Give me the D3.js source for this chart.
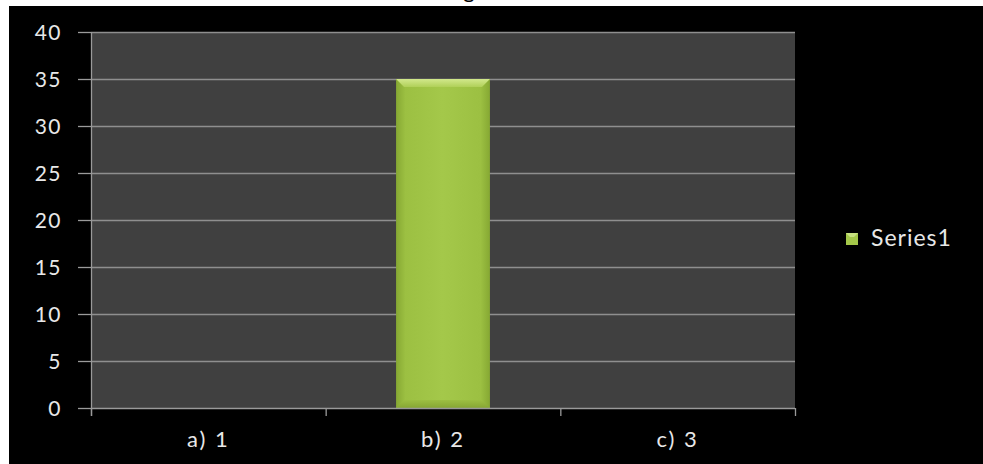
<!DOCTYPE html>
<html>
<head>
<meta charset="utf-8">
<script src="https://cdn.jsdelivr.net/npm/d3@7/dist/d3.min.js"></script>
<style>
  html, body { margin: 0; padding: 0; background: #ffffff; }
  svg { display: block; }
</style>
</head>
<body>
<svg id="chart" width="983" height="464"></svg>
<script>
// Chart data
const categories = ["a) 1", "b) 2", "c) 3"];
const series1 = [0, 35, 0];
const seriesName = "Series1";
const yTicks = [0, 5, 10, 15, 20, 25, 30, 35, 40];
const titleText = "g";

const W = 983, H = 464;
const plot = { left: 91, right: 795, top: 32, bottom: 408 };
const font = "Lato, 'Open Sans', sans-serif";
const labelColor = "#e8e8e8";

const svg = d3.select("#chart");

// White page with a black chart frame
svg.append("rect").attr("width", W).attr("height", H).attr("fill", "#ffffff");
svg.append("rect").attr("x", 9).attr("y", 6).attr("width", W - 9).attr("height", H - 6).attr("fill", "#000000");

// Title, mostly hidden above the frame
svg.append("text")
  .attr("x", 469).attr("y", -2)
  .attr("text-anchor", "middle")
  .attr("font-family", font).attr("font-size", 22)
  .attr("fill", "#000")
  .text(titleText);

const x = d3.scaleBand().domain(categories).range([plot.left, plot.right]).paddingInner(0).paddingOuter(0);
const y = d3.scaleLinear().domain([0, 40]).range([plot.bottom, plot.top]);

// Plot background
svg.append("rect")
  .attr("x", plot.left).attr("y", plot.top)
  .attr("width", plot.right - plot.left).attr("height", plot.bottom - plot.top)
  .attr("fill", "#404040");

// Gridlines
svg.append("g").selectAll("line").data(yTicks.filter(d => d > 0)).join("line")
  .attr("x1", plot.left).attr("x2", plot.right)
  .attr("y1", d => y(d) + 0.5).attr("y2", d => y(d) + 0.5)
  .attr("stroke", "#8f8f8f").attr("stroke-width", 1.3);

// Bar gradients
const defs = svg.append("defs");
const gMain = defs.append("linearGradient").attr("id", "barMain").attr("x1", 0).attr("x2", 1).attr("y1", 0).attr("y2", 0);
gMain.append("stop").attr("offset", "0%").attr("stop-color", "#86a833");
gMain.append("stop").attr("offset", "10%").attr("stop-color", "#9cc042");
gMain.append("stop").attr("offset", "50%").attr("stop-color", "#a4c84a");
gMain.append("stop").attr("offset", "90%").attr("stop-color", "#9cc042");
gMain.append("stop").attr("offset", "100%").attr("stop-color", "#86a833");
const gTop = defs.append("linearGradient").attr("id", "barTop").attr("x1", 0).attr("x2", 0).attr("y1", 0).attr("y2", 1);
gTop.append("stop").attr("offset", "0%").attr("stop-color", "#d2e88c");
gTop.append("stop").attr("offset", "100%").attr("stop-color", "#b0d058");
const gBot = defs.append("linearGradient").attr("id", "barBot").attr("x1", 0).attr("x2", 0).attr("y1", 0).attr("y2", 1);
gBot.append("stop").attr("offset", "0%").attr("stop-color", "#9cbf42");
gBot.append("stop").attr("offset", "100%").attr("stop-color", "#86a633");

const barW = x.bandwidth() * 0.4;
const bevel = 8;
const bars = svg.append("g");
categories.forEach((c, i) => {
  const v = series1[i];
  if (v <= 0) return;
  const x0 = x(c) + (x.bandwidth() - barW) / 2;
  const x1 = x0 + barW;
  const y0 = y(v);
  const y1 = y(0);
  bars.append("rect")
    .attr("x", x0).attr("y", y0).attr("width", barW).attr("height", y1 - y0)
    .attr("fill", "url(#barMain)");
  bars.append("path")
    .attr("d", `M${x0},${y0} L${x1},${y0} L${x1 - bevel},${y0 + bevel} L${x0 + bevel},${y0 + bevel} Z`)
    .attr("fill", "url(#barTop)");
  bars.append("path")
    .attr("d", `M${x0},${y1} L${x1},${y1} L${x1 - bevel},${y1 - bevel} L${x0 + bevel},${y1 - bevel} Z`)
    .attr("fill", "url(#barBot)");
});

// Y axis
const yAxis = svg.append("g");
yAxis.append("line")
  .attr("x1", plot.left + 0.5).attr("x2", plot.left + 0.5)
  .attr("y1", plot.top).attr("y2", plot.bottom + 8)
  .attr("stroke", "#9a9a9a").attr("stroke-width", 1.3);
yAxis.selectAll("line.tick").data(yTicks).join("line").attr("class", "tick")
  .attr("x1", plot.left - 13).attr("x2", plot.left)
  .attr("y1", d => y(d) + 0.5).attr("y2", d => y(d) + 0.5)
  .attr("stroke", "#9a9a9a").attr("stroke-width", 1.3);
yAxis.selectAll("text").data(yTicks).join("text")
  .attr("x", 62).attr("y", d => y(d))
  .attr("dy", "0.36em")
  .attr("text-anchor", "end")
  .attr("font-family", font).attr("font-size", 21)
  .attr("letter-spacing", 1.5)
  .attr("fill", labelColor)
  .text(d => d);

// X axis
const xAxis = svg.append("g");
xAxis.append("line")
  .attr("x1", plot.left).attr("x2", plot.right)
  .attr("y1", plot.bottom + 0.5).attr("y2", plot.bottom + 0.5)
  .attr("stroke", "#9a9a9a").attr("stroke-width", 1.3);
const edges = categories.map(c => x(c)).concat([x(categories[categories.length - 1]) + x.bandwidth()]);
xAxis.selectAll("line.tick").data(edges).join("line").attr("class", "tick")
  .attr("x1", d => d + 0.5).attr("x2", d => d + 0.5)
  .attr("y1", plot.bottom).attr("y2", plot.bottom + 8)
  .attr("stroke", "#9a9a9a").attr("stroke-width", 1.3);
xAxis.selectAll("text").data(categories).join("text")
  .attr("x", d => x(d) + x.bandwidth() / 2)
  .attr("y", 447)
  .attr("text-anchor", "middle")
  .attr("font-family", font).attr("font-size", 22)
  .attr("letter-spacing", 2)
  .attr("fill", labelColor)
  .text(d => d);

// Legend
const legend = svg.append("g");
legend.append("rect")
  .attr("x", 846).attr("y", 233).attr("width", 12).attr("height", 12)
  .attr("fill", "#a4c84a");
legend.append("path")
  .attr("d", "M846,233 L858,233 L854,237 L850,237 Z")
  .attr("fill", "#c8e280");
legend.append("text")
  .attr("x", 871).attr("y", 245.5)
  .attr("font-family", font).attr("font-size", 23)
  .attr("letter-spacing", 1)
  .attr("fill", labelColor)
  .text(seriesName);
</script>
</body>
</html>
